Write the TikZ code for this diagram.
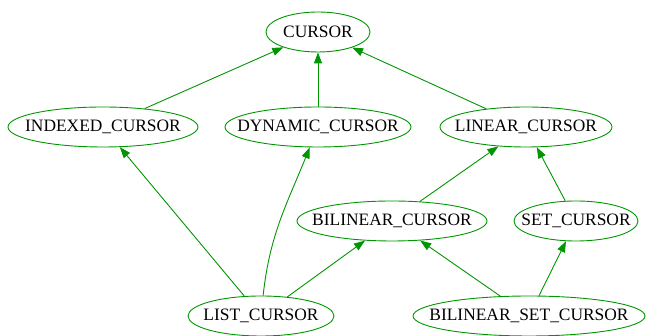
\documentclass[tikz,border=0pt]{standalone}
\usepackage{fontspec}
\setmainfont{Liberation Serif}
\usepackage{tikz}
\usetikzlibrary{shapes.geometric,arrows.meta}

\definecolor{gvgreen}{RGB}{0,150,0}

\tikzset{
	cls/.style={ellipse, draw=gvgreen, line width=0.9pt, inner sep=0pt,
		minimum height=40pt, font=\fontsize{17.4}{19}\selectfont},
	arr/.style={draw=gvgreen, line width=0.9pt,
		-{Triangle[length=11pt,width=8pt,fill=gvgreen]}}
}
\newcommand{\lbl}[1]{\makebox[0pt]{#1}}

\begin{document}
\begin{tikzpicture}[x=1pt,y=1pt]

	\useasboundingbox (0,0) rectangle (649,336);

	\node[cls, minimum width=104pt] (cur) at (318,304) {\lbl{CURSOR}};
	\node[cls, minimum width=190pt] (idx) at (103,209) {\lbl{INDEXED\_CURSOR}};
	\node[cls, minimum width=186pt] (dyn) at (318,209) {\lbl{DYNAMIC\_CURSOR}};
	\node[cls, minimum width=172pt] (lin) at (526,209) {\lbl{LINEAR\_CURSOR}};
	\node[cls, minimum width=190pt] (bil) at (392,115) {\lbl{BILINEAR\_CURSOR}};
	\node[cls, minimum width=124pt] (set) at (576,115) {\lbl{SET\_CURSOR}};
	\node[cls, minimum width=146pt] (lst) at (261,20) {\lbl{LIST\_CURSOR}};
	\node[cls, minimum width=232pt] (bst) at (529,20) {\lbl{BILINEAR\_SET\_CURSOR}};

	\foreach \a / \b in {
	idx/cur,
	dyn/cur,
	lin/cur,
	bil/lin,
	set/lin,
	lst/idx,
	%lst/dyn,
	lst/bil,
	bst/bil,
	bst/set}
	{
		\path (\a) edge[arr] (\b);
	};

	\path (lst) edge[arr, out=84, in=-112] (dyn);
\end{tikzpicture}
\end{document}
